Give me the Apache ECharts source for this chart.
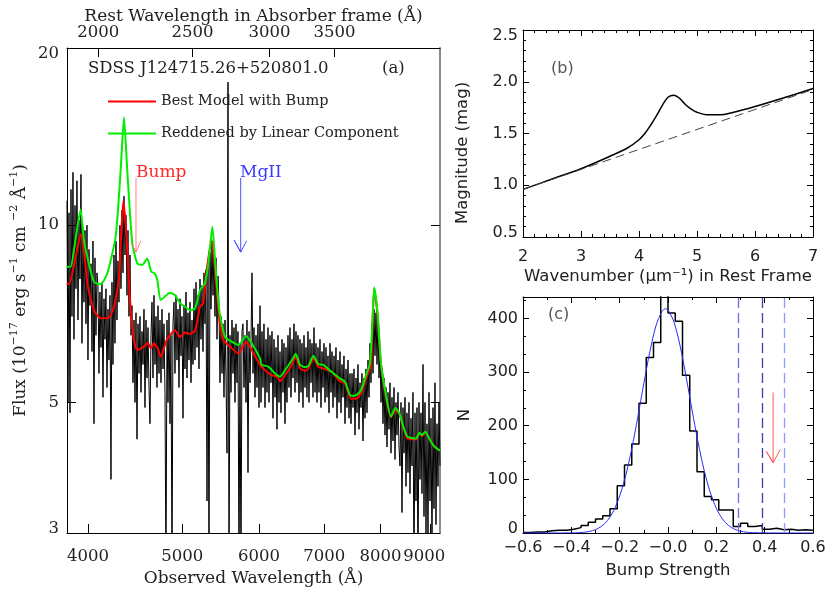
<!DOCTYPE html>
<html><head><meta charset="utf-8">
<script src="https://cdn.jsdelivr.net/npm/echarts@6/dist/echarts.min.js"></script>
<style>html,body{margin:0;padding:0;background:#fff}#c{width:830px;height:593px}</style>
</head><body><div id="c"></div>
<script>
// ---------- Panel (a): spectrum of SDSS J124715.26+520801.0 ----------
const loglam0 = 3.58045;      // log10 of first wavelength (Å)
const dloglam = 0.0010291;    // log10 step per pixel
const zAbs = 1.0495;          // absorber redshift
const obsTicks = [4000, 5000, 6000, 7000, 8000, 9000];
const restTicks = [2000, 2500, 3000, 3500];
const fluxTicks = [3, 5, 10, 20];
const fluxTicksRight = [5, 10];
const specFlux = [
  11.0, 5.0, 10.5, 4.8,
  11.5, 7.0, 12.3, 6.4, 10.8, 7.8, 11.9, 6.9, 10.2, 8.1, 12.2, 6.3, 9.9, 7.4,
  9.8, 6.8, 10.0, 5.9, 9.1, 7.3, 8.6, 6.1, 9.4, 4.6, 8.8, 6.5, 8.3,
  7.9, 5.6, 7.7, 6.2, 8.0, 5.1, 7.5, 6.4, 7.8, 5.3, 7.2, 5.9, 7.6, 3.7,
  8.0, 5.8, 8.9, 6.3, 9.4, 6.9, 8.7, 7.4, 10.0, 7.8, 10.6,
  8.3, 11.2, 8.9, 10.4, 7.6, 9.8, 7.0, 8.9,
  6.5, 7.3, 5.4, 6.9, 5.0, 7.1, 4.33, 6.8, 5.6, 7.0, 5.2, 6.6, 5.8, 7.2, 4.9, 6.9, 5.5, 6.7, 5.3, 4.6, 6.5,
  7.4, 5.5, 7.6, 5.8, 7.0, 5.3, 7.3, 5.6, 6.9, 5.4, 7.2, 5.7, 6.8,
  5.2, 2.5, 6.9, 5.0, 7.1, 4.6, 6.5, 2.5, 6.8,
  7.4, 5.6, 7.6, 5.9, 7.2, 5.3, 7.5, 6.0, 7.0, 4.7, 7.3, 5.7, 7.7, 5.5, 7.1, 5.9, 7.4, 5.4, 6.9, 5.8,
  7.8, 5.9, 8.0, 6.2, 7.6, 5.7, 8.1, 6.4, 7.9, 6.1, 8.3, 6.8, 8.4,
  3.4, 8.5, 2.5, 9.0,
  7.2, 9.4, 7.6, 9.0, 7.0, 8.8, 6.4, 8.2,
  7.3, 5.4, 7.0, 5.6, 6.8, 5.1, 6.9, 5.5, 4.1,
  17.5, 2.5,
  6.5, 5.2, 6.9, 5.6, 6.7, 5.0, 6.8, 5.4, 6.6,
  2.5, 6.3, 2.5, 6.6,
  6.8, 5.3, 6.5, 5.0, 6.9, 3.8, 6.6, 5.4, 6.4, 8.3, 5.6, 6.7, 5.1, 6.5, 5.3, 6.8, 4.9, 7.3,
  5.0, 6.6, 5.3, 6.8, 4.9, 6.4, 5.2, 6.7, 5.0, 6.5, 5.4, 6.6,
  4.7, 6.4, 5.1, 6.2, 4.5, 6.5, 5.0, 6.1, 4.8, 6.4, 5.2, 6.3, 4.6, 6.2, 5.0, 6.5,
  5.3, 6.7, 5.1, 6.4, 5.5, 6.8, 5.2, 6.6, 5.4, 6.5,
  5.0, 6.4, 5.2, 6.3, 4.9, 6.5, 5.3, 6.2, 5.1, 6.6, 5.0, 6.4, 5.4, 6.3, 5.1, 6.7, 5.2,
  6.3, 5.0, 6.2, 5.2, 6.4, 4.9, 6.1, 5.3, 6.3, 5.0, 6.2, 5.1, 6.0, 4.8, 6.3, 5.2, 6.1,
  4.9, 6.0, 5.1, 6.2, 4.7, 5.9, 5.0, 6.1, 4.8, 5.8, 5.1, 6.0, 4.6, 5.7, 4.9, 5.9, 4.7, 5.6,
  4.6, 5.6, 4.9, 5.7, 4.4, 5.5, 4.8, 5.8, 4.5, 5.4, 4.9, 5.6, 4.3, 5.5, 4.7, 5.7,
  4.8, 5.9, 5.1, 6.3, 5.4, 6.8, 5.6,
  7.2, 6.0, 7.1, 5.8, 6.9, 5.5,
  6.1, 5.0, 5.7, 4.6, 5.5, 4.4, 5.3, 4.2, 5.2, 4.5, 5.4, 4.1, 5.1, 4.3, 5.3, 4.0, 5.0, 4.4, 5.2, 4.2,
  3.9, 5.0, 3.25, 4.9, 4.1, 5.1, 3.6, 4.8, 3.8, 5.0, 3.5, 4.7, 3.9, 5.2, 2.5, 4.8, 3.4, 4.9, 2.5, 5.0, 3.7, 4.8, 3.5, 5.8,
  3.2, 5.0, 3.0, 4.6, 2.9, 5.2, 3.4, 4.7, 2.8, 4.9, 3.3, 5.4, 3.1, 4.6, 3.6, 5.0, 3.9
];
const modelBump = [[3803,7.97],[3824,7.94],[3885,8.84],[3931,9.66],[3969,8.84],[3993,7.97],[4057,7.17],[4122,6.95],[4204,6.97],[4254,7.27],[4305,8.17],[4325,9.43],[4349,10.99],[4370,10.20],[4390,9.07],[4426,7.17],[4461,6.38],[4496,6.14],[4568,6.22],[4611,6.31],[4641,6.18],[4677,6.30],[4714,6.20],[4752,5.98],[4820,6.38],[4916,6.63],[4974,6.46],[5034,6.57],[5094,6.54],[5155,6.62],[5216,7.27],[5257,7.37],[5299,8.39],[5362,9.43],[5405,8.39],[5447,7.17],[5512,6.38],[5600,6.22],[5712,6.05],[5817,6.34],[5896,6.14],[6013,5.79],[6084,5.67],[6182,5.56],[6256,5.54],[6305,5.43],[6380,5.56],[6482,5.79],[6544,5.98],[6611,5.71],[6690,5.66],[6743,5.71],[6823,5.94],[6904,5.75],[6987,5.71],[7127,5.63],[7268,5.43],[7354,5.39],[7459,5.07],[7548,5.07],[7638,5.18],[7729,5.49],[7821,5.79],[7852,6.90],[7882,7.81],[7946,6.99],[8008,5.83],[8104,5.13],[8200,4.72],[8284,4.85],[8363,4.78],[8462,4.49],[8531,4.34],[8701,4.33],[8770,4.43],[8826,4.38],[8895,4.46],[8980,4.34],[9087,4.21],[9211,4.14]];
const modelLinear = [[3803,8.50],[3839,8.50],[3869,9.07],[3931,10.63],[3962,9.43],[3993,8.84],[4057,8.01],[4122,7.94],[4187,8.28],[4271,9.56],[4322,12.41],[4356,15.25],[4390,12.41],[4443,9.31],[4496,8.61],[4549,8.56],[4603,8.78],[4647,8.34],[4685,8.28],[4714,8.07],[4752,7.46],[4820,7.61],[4858,7.68],[4916,7.61],[4974,7.37],[5034,7.27],[5094,7.17],[5155,7.22],[5216,7.76],[5278,7.97],[5320,8.61],[5371,9.94],[5405,8.73],[5460,7.17],[5534,6.46],[5623,6.34],[5712,6.26],[5817,6.48],[5896,6.30],[6013,5.94],[6037,5.79],[6133,5.75],[6231,5.60],[6305,5.53],[6380,5.67],[6482,5.89],[6544,6.05],[6611,5.79],[6690,5.74],[6743,5.77],[6823,6.00],[6904,5.81],[6987,5.79],[7127,5.63],[7268,5.49],[7354,5.42],[7459,5.13],[7548,5.14],[7638,5.25],[7729,5.56],[7803,5.83],[7852,6.96],[7882,7.84],[7946,7.08],[8008,5.83],[8104,5.15],[8200,4.73],[8284,4.89],[8363,4.80],[8462,4.50],[8531,4.37],[8701,4.34],[8770,4.44],[8826,4.40],[8895,4.46],[8980,4.34],[9087,4.21],[9211,4.14]];
const bumpArrow = [[4482,12.03],[4482,9.0],[4429,9.33],[4482,9.0],[4535,9.41]];
const mgArrow = [[5744,12.03],[5744,9.0],[5657,9.43],[5744,9.0],[5826,9.41]];
const specMin = 3806, specMax = 9211;

// ---------- Panel (b): extinction curve ----------
const extBump = [[2.0,0.96],[2.5,1.06],[3.0,1.16],[3.5,1.28],[3.8,1.36],[4.0,1.44],[4.1,1.50],[4.2,1.58],[4.3,1.67],[4.4,1.77],[4.5,1.85],[4.6,1.87],[4.7,1.84],[4.8,1.78],[4.9,1.735],[5.0,1.705],[5.2,1.68],[5.4,1.68],[5.6,1.70],[6.0,1.76],[6.5,1.845],[7.0,1.935]];
const extLinear = [[2.0,0.96],[7.0,1.925]];

// ---------- Panel (c): bump strength histogram ----------
const binStart = -0.6, binWidth = 0.03;
const binCounts = [1,2,2,4,5,5,7,10,14,20,26,32,45,88,127,166,242,327,355,470,410,395,294,190,114,68,62,43,43,12,18,12,14,7,9,6,7,5,6,5];
const gaussFit = [[-0.6,0],[-0.45,0],[-0.425,0.1],[-0.4,0.2],[-0.375,0.5],[-0.35,1.3],[-0.325,2.9],[-0.3,6.3],[-0.275,12.5],[-0.25,23.5],[-0.225,41.5],[-0.2,69],[-0.175,107],[-0.15,157],[-0.125,216],[-0.1,279],[-0.075,338],[-0.05,386],[-0.025,413],[-0.01,418],[0,416],[0.025,393],[0.05,349],[0.075,291],[0.1,228],[0.125,168],[0.15,116],[0.175,75.5],[0.2,46],[0.225,26.4],[0.25,14.2],[0.275,7.2],[0.3,3.4],[0.325,1.5],[0.35,0.6],[0.4,0.1],[0.45,0],[0.6,0]];
const nTicks = [0, 100, 200, 300, 400];
const thresholds = [0.286, 0.385, 0.483];
const thresholdColors = ['#6b6be8', '#3f3fa0', '#8d9bff'];
const arrowC = [[0.435,262],[0.435,131],[0.407,152],[0.435,131],[0.465,156]];

// ---------- build ----------
const specData = specFlux.map((f, i) => [Math.pow(10, loglam0 + i * dloglam), f]);
const histData = binCounts.map((c, i) => [binStart + i * binWidth, c]);
histData.push([binStart + binCounts.length * binWidth, binCounts[binCounts.length - 1]]);

const serif = 'DejaVu Serif', sans = 'DejaVu Sans';
const txt = '#222';
const blackLine = {show: true, onZero: false, lineStyle: {color: '#000', width: 1}};
const shiftRich = {
  dn: {padding: [11, 0, 0, 0]},
  up: {padding: [0, 0, 9, 0]},
  lf: {padding: [0, 12, 0, 0]}
};

function valAxis(o) {
  return Object.assign({
    type: 'value', splitLine: {show: false},
    axisLine: blackLine,
    axisTick: {show: true, inside: true, length: 6, lineStyle: {color: '#000'}},
    minorTick: {show: true, splitNumber: 5, length: 3, lineStyle: {color: '#000'}},
    axisLabel: {show: false}
  }, o);
}
const sansLabel = (extra) => Object.assign({show: true, fontFamily: sans, fontSize: 16, color: txt, rich: shiftRich}, extra);

const option = {
  backgroundColor: '#fff',
  animation: false,
  grid: [
    {left: 67, top: 48, width: 373, height: 485},
    {left: 523, top: 30, width: 290, height: 207},
    {left: 523, top: 297, width: 290, height: 236}
  ],
  legend: {
    data: ['Best Model with Bump', 'Reddened by Linear Component'],
    orient: 'vertical', left: 108, top: 94, padding: 0,
    itemWidth: 48, itemHeight: 2, itemGap: 17, icon: 'rect', selectedMode: false,
    textStyle: {fontFamily: serif, fontSize: 14.5, color: txt}
  },
  xAxis: [
    {type: 'log', gridIndex: 0, position: 'bottom', min: specMin, max: specMax, logBase: 10,
     splitLine: {show: false}, axisLine: blackLine,
     axisTick: {show: true, inside: true, length: 9, customValues: obsTicks, lineStyle: {color: '#000'}},
     axisLabel: {show: true, customValues: obsTicks, margin: 15, fontFamily: serif, fontSize: 16.5, color: txt, rich: shiftRich,
                 formatter: v => { const s = String(Math.round(v)); return Math.round(v) >= 9000 ? '{lf|' + s + '}' : s; }},
     name: 'Observed Wavelength (Å)', nameLocation: 'middle', nameGap: 32,
     nameTextStyle: {fontFamily: serif, fontSize: 17, color: txt}},
    {type: 'log', gridIndex: 0, position: 'top', min: specMin / (1 + zAbs), max: specMax / (1 + zAbs), logBase: 10,
     splitLine: {show: false}, axisLine: blackLine,
     axisTick: {show: true, inside: true, length: 9, customValues: restTicks, lineStyle: {color: '#000'}},
     axisLabel: {show: true, customValues: restTicks, margin: 7, fontFamily: serif, fontSize: 16.5, color: txt,
                 formatter: v => String(Math.round(v))},
     name: 'Rest Wavelength in Absorber frame (Å)', nameLocation: 'middle', nameGap: 23, nameMoveOverlap: false,
     nameTextStyle: {fontFamily: serif, fontSize: 17, color: txt}},
    valAxis({gridIndex: 1, position: 'bottom', min: 2, max: 7, interval: 1,
     axisLabel: sansLabel({margin: 12}),
     name: 'Wavenumber (μm⁻¹) in Rest Frame', nameLocation: 'middle', nameGap: 31,
     nameTextStyle: {fontFamily: sans, fontSize: 16.5, color: txt}}),
    valAxis({gridIndex: 1, position: 'top', min: 2, max: 7, interval: 1}),
    valAxis({gridIndex: 2, position: 'bottom', min: -0.6, max: 0.6, interval: 0.2,
     minorTick: {show: true, splitNumber: 2, length: 3, lineStyle: {color: '#000'}},
     axisLabel: sansLabel({margin: 7, formatter: v => (v < 0.05 ? '−' : '') + Math.abs(v).toFixed(1)}),
     name: 'Bump Strength', nameLocation: 'middle', nameGap: 29,
     nameTextStyle: {fontFamily: sans, fontSize: 16.5, color: txt}}),
    valAxis({gridIndex: 2, position: 'top', min: -0.6, max: 0.6, interval: 0.2,
     minorTick: {show: true, splitNumber: 2, length: 3, lineStyle: {color: '#000'}}})
  ],
  yAxis: [
    {type: 'log', gridIndex: 0, position: 'left', min: 3, max: 20, logBase: 10,
     splitLine: {show: false}, axisLine: blackLine,
     axisTick: {show: true, inside: true, length: 9, customValues: fluxTicks, lineStyle: {color: '#000'}},
     axisLabel: {show: true, customValues: fluxTicks, margin: 8, fontFamily: serif, fontSize: 16.5, color: txt, rich: shiftRich,
                 formatter: v => { const r = Math.round(v); return r >= 20 ? '{dn|20}' : (r <= 3 ? '{up|3}' : String(r)); }},
     name: 'Flux (10{s|−17} erg s{s|−1} cm {s|−2} Å{s|−1})', nameLocation: 'middle', nameRotate: 90, nameGap: 34,
     nameTextStyle: {fontFamily: serif, fontSize: 17, color: txt, lineHeight: 24,
                     rich: {s: {fontFamily: serif, fontSize: 11, color: txt, verticalAlign: 'top', lineHeight: 11}}}},
    {type: 'log', gridIndex: 0, position: 'right', min: 3, max: 20, logBase: 10,
     splitLine: {show: false}, axisLine: {show: true, onZero: false, lineStyle: {color: '#8a8a8a', width: 2}},
     axisTick: {show: true, inside: true, length: 9, customValues: fluxTicksRight, lineStyle: {color: '#000'}},
     axisLabel: {show: false}},
    valAxis({gridIndex: 1, position: 'left', min: 0.5, max: 2.5, interval: 0.5,
     axisLabel: sansLabel({margin: 5, formatter: v => {
       const s = v.toFixed(1);
       return v > 2.45 ? '{dn|' + s + '}' : (v < 0.55 ? '{up|' + s + '}' : s);
     }})}),
    valAxis({gridIndex: 1, position: 'right', min: 0.5, max: 2.5, interval: 0.5}),
    valAxis({gridIndex: 2, position: 'left', min: 0, max: 440, interval: 100,
     minorTick: {show: true, splitNumber: 3, length: 3, lineStyle: {color: '#000'}},
     axisLabel: sansLabel({margin: 5, customValues: nTicks, formatter: v => v === 0 ? '{up|0}' : String(v)}),
     name: 'N', nameLocation: 'middle', nameRotate: 90, nameGap: 50,
     nameTextStyle: {fontFamily: sans, fontSize: 16.5, color: txt}}),
    valAxis({gridIndex: 2, position: 'right', min: 0, max: 440, interval: 100,
     minorTick: {show: true, splitNumber: 3, length: 3, lineStyle: {color: '#000'}}})
  ],
  series: [
    {name: 'spectrum', type: 'line', xAxisIndex: 0, yAxisIndex: 0, data: specData, showSymbol: false,
     silent: true, clip: true, lineStyle: {color: '#000', width: 1}, z: 2},
    {name: 'Best Model with Bump', type: 'line', xAxisIndex: 0, yAxisIndex: 0, data: modelBump, showSymbol: false,
     silent: true, clip: true, smooth: 0.2, color: '#ff0000', lineStyle: {color: '#ff0000', width: 2}, z: 3},
    {name: 'Reddened by Linear Component', type: 'line', xAxisIndex: 0, yAxisIndex: 0, data: modelLinear, showSymbol: false,
     silent: true, clip: true, smooth: 0.2, color: '#00ee00', lineStyle: {color: '#00ee00', width: 2}, z: 4},
    {name: 'bumpArrow', type: 'line', xAxisIndex: 0, yAxisIndex: 0, data: bumpArrow, showSymbol: false, silent: true,
     lineStyle: {color: '#ff8080', width: 1}, z: 5},
    {name: 'mgArrow', type: 'line', xAxisIndex: 0, yAxisIndex: 0, data: mgArrow, showSymbol: false, silent: true,
     lineStyle: {color: '#4d4dff', width: 1}, z: 5},
    {name: 'extBump', type: 'line', xAxisIndex: 2, yAxisIndex: 2, data: extBump, showSymbol: false, silent: true,
     smooth: 0.35, lineStyle: {color: '#000', width: 1.5}},
    {name: 'extLinear', type: 'line', xAxisIndex: 2, yAxisIndex: 2, data: extLinear, showSymbol: false, silent: true,
     lineStyle: {color: '#444', width: 1, type: [9, 5]}},
    {name: 'hist', type: 'line', xAxisIndex: 4, yAxisIndex: 4, data: histData, step: 'end', showSymbol: false,
     silent: true, clip: true, lineStyle: {color: '#000', width: 1.5},
     markLine: {silent: true, symbol: ['none', 'none'], label: {show: false}, animation: false,
       data: thresholds.map((t, i) => ({xAxis: t, lineStyle: {color: thresholdColors[i], width: 1.3, type: [10, 5]}}))}},
    {name: 'gauss', type: 'line', xAxisIndex: 4, yAxisIndex: 4, data: gaussFit, showSymbol: false, silent: true,
     smooth: 0.3, clip: true, lineStyle: {color: '#2a2aff', width: 1}},
    {name: 'arrowC', type: 'line', xAxisIndex: 4, yAxisIndex: 4, data: arrowC, showSymbol: false, silent: true,
     lineStyle: {color: '#ff5a5a', width: 1}}
  ],
  graphic: [
    {type: 'text', x: 88, y: 69, style: {text: 'SDSS J124715.26+520801.0', fontFamily: serif, fontSize: 16.5, fill: txt, align: 'left', verticalAlign: 'middle'}},
    {type: 'text', x: 382, y: 69, style: {text: '(a)', fontFamily: serif, fontSize: 16.5, fill: txt, align: 'left', verticalAlign: 'middle'}},
    {type: 'text', x: 136, y: 173, style: {text: 'Bump', fontFamily: serif, fontSize: 17, fill: '#ff2a2a', align: 'left', verticalAlign: 'middle'}},
    {type: 'text', x: 240, y: 173, style: {text: 'MgII', fontFamily: serif, fontSize: 17, fill: '#3c3cff', align: 'left', verticalAlign: 'middle'}},
    {type: 'text', x: 551, y: 69, style: {text: '(b)', fontFamily: sans, fontSize: 16, fill: '#555', align: 'left', verticalAlign: 'middle'}},
    {type: 'text', x: 548, y: 315, style: {text: '(c)', fontFamily: sans, fontSize: 16, fill: '#555', align: 'left', verticalAlign: 'middle'}},
    {type: 'text', x: 463, y: 153, rotation: Math.PI / 2, style: {text: 'Magnitude (mag)', fontFamily: sans, fontSize: 16.5, fill: txt, align: 'center', verticalAlign: 'middle'}}
  ]
};
const chart = echarts.init(document.getElementById('c'), null, {renderer: 'canvas', width: 830, height: 593});
chart.setOption(option);
</script>
</body></html>
